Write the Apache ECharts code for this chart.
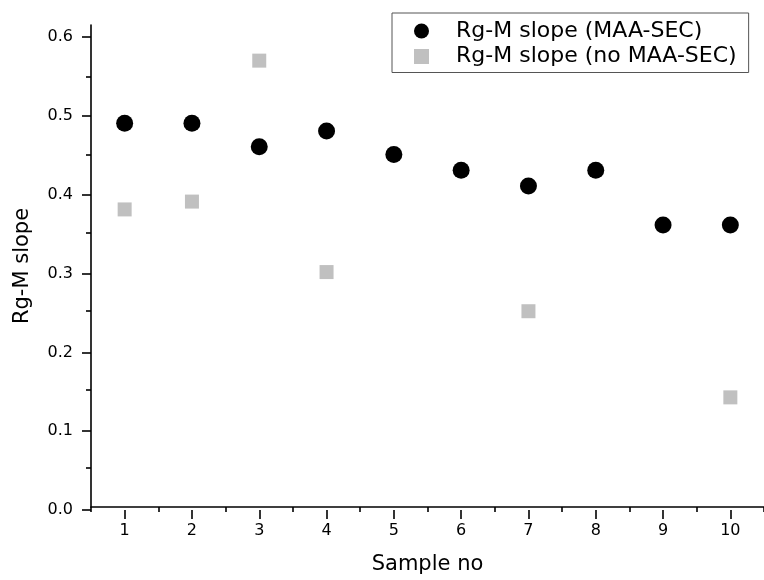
<!DOCTYPE html>
<html>
<head>
<meta charset="utf-8">
<script src="https://cdn.jsdelivr.net/npm/echarts@6/dist/echarts.min.js"></script>
<style>html,body{margin:0;padding:0;background:#fff}#c{width:764px;height:580px}</style>
</head>
<body>
<div id="c"></div>
<script>
const samples = [1, 2, 3, 4, 5, 6, 7, 8, 9, 10];
const slopeMAA = [0.49, 0.49, 0.46, 0.48, 0.45, 0.43, 0.41, 0.43, 0.36, 0.36];
const sampleNoMAA = [1, 2, 3, 4, 7, 10];
const slopeNoMAA = [0.38, 0.39, 0.57, 0.30, 0.25, 0.14];
const xMajorTicks = [1, 2, 3, 4, 5, 6, 7, 8, 9, 10];
const xMinorTicks = [0.5, 1.5, 2.5, 3.5, 4.5, 5.5, 6.5, 7.5, 8.5, 9.5, 10.5];
const yMajorTicks = [0, 0.1, 0.2, 0.3, 0.4, 0.5, 0.6];
const yMinorTicks = [0.05, 0.15, 0.25, 0.35, 0.45, 0.55];

const FONT = '"DejaVu Sans", Arial, sans-serif';
const gridRect = {left: 91, top: 25, right: -6, bottom: 70};
const chart = echarts.init(document.getElementById('c'), null, {renderer: 'canvas'});
const lineStyle = {color: '#000', width: 1.6};

chart.setOption({
  animation: false,
  backgroundColor: '#fff',
  grid: [Object.assign({}, gridRect), Object.assign({}, gridRect)],
  legend: {
    left: 392, top: 13,
    orient: 'vertical',
    padding: [7, 12, 5, 22],
    itemGap: 3.5,
    itemWidth: 15, itemHeight: 15,
    borderColor: '#555', borderWidth: 1,
    textStyle: {fontFamily: FONT, fontSize: 22, color: '#000', lineHeight: 20, padding: [0, 0, 0, 22]},
    data: [
      {name: 'Rg-M slope (MAA-SEC)', icon: 'circle'},
      {name: 'Rg-M slope (no MAA-SEC)', icon: 'rect', itemStyle: {color: '#c0c0c0'}}
    ]
  },
  xAxis: [
    {
      gridIndex: 0, type: 'value', min: 0.5, max: 10.5,
      axisLine: {show: true, lineStyle: lineStyle},
      axisTick: {show: true, length: 5, lineStyle: lineStyle, customValues: xMinorTicks},
      axisLabel: {show: false},
      splitLine: {show: false},
      name: 'Sample no', nameLocation: 'middle', nameGap: 47,
      nameTextStyle: {fontFamily: FONT, fontSize: 21, color: '#000'}
    },
    {
      gridIndex: 1, type: 'value', min: 0.5, max: 10.5,
      axisLine: {show: false},
      axisTick: {show: true, length: 9, lineStyle: lineStyle, customValues: xMajorTicks},
      axisLabel: {show: true, customValues: xMajorTicks, margin: 13, fontFamily: FONT, fontSize: 16, color: '#000'},
      splitLine: {show: false}
    }
  ],
  yAxis: [
    {
      gridIndex: 0, type: 'value', min: 0, max: 0.6155,
      axisLine: {show: true, lineStyle: lineStyle},
      axisTick: {show: true, length: 5, lineStyle: lineStyle, customValues: yMinorTicks},
      axisLabel: {show: false},
      splitLine: {show: false},
      name: 'Rg-M slope', nameLocation: 'middle', nameGap: 58, nameRotate: 90,
      nameTextStyle: {fontFamily: FONT, fontSize: 21, color: '#000'}
    },
    {
      gridIndex: 1, type: 'value', min: 0, max: 0.6155,
      axisLine: {show: false},
      axisTick: {show: true, length: 9, lineStyle: lineStyle, customValues: yMajorTicks},
      axisLabel: {show: true, customValues: yMajorTicks, margin: 18, fontFamily: FONT, fontSize: 16, color: '#000',
        formatter: v => v.toFixed(1)},
      splitLine: {show: false}
    }
  ],
  series: [
    {
      name: 'Rg-M slope (MAA-SEC)', type: 'scatter', xAxisIndex: 0, yAxisIndex: 0,
      symbol: 'circle', symbolSize: 17,
      itemStyle: {color: '#000', opacity: 1},
      data: samples.map((s, i) => [s, slopeMAA[i]])
    },
    {
      name: 'Rg-M slope (no MAA-SEC)', type: 'scatter', xAxisIndex: 0, yAxisIndex: 0,
      symbol: 'rect', symbolSize: 14,
      itemStyle: {color: '#c0c0c0', opacity: 1},
      data: sampleNoMAA.map((s, i) => [s, slopeNoMAA[i]])
    }
  ]
});
</script>
</body>
</html>
